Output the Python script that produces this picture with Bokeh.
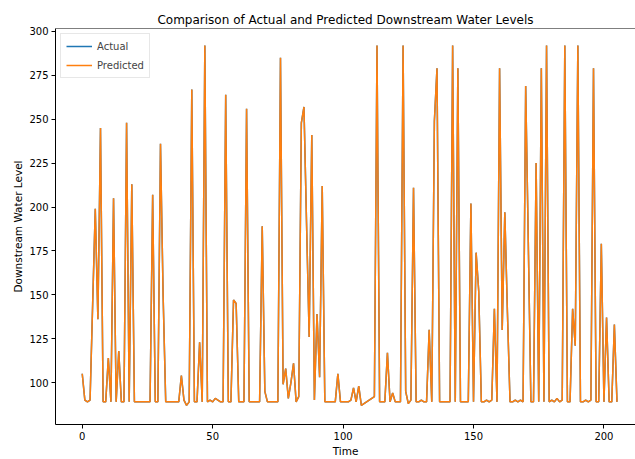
from bokeh.plotting import figure
from bokeh.models import Range1d, FixedTicker, Legend, LegendItem, Span
from bokeh.embed import file_html
from bokeh.resources import INLINE

actual = [105, 90, 89, 90, 145, 199, 136, 245, 89, 89,
          114, 89, 205, 89, 118, 89, 89, 248, 89, 213,
          89, 89, 89, 89, 89, 89, 89, 207, 89, 89,
          236, 150, 89, 89, 89, 89, 89, 89, 104, 90,
          87, 89, 267, 89, 89, 123, 89, 292, 89, 90,
          89, 91, 90, 89, 89, 264, 89, 89, 147, 145,
          89, 89, 89, 256, 89, 89, 89, 89, 89, 189,
          95, 89, 89, 89, 89, 89, 285, 99, 108, 91,
          100, 111, 89, 92, 248, 257, 190, 126, 241, 90,
          139, 103, 212, 89, 89, 89, 89, 89, 105, 89,
          89, 89, 89, 90, 97, 89, 98, 87, 88, 89,
          90, 91, 92, 292, 89, 89, 89, 117, 89, 94,
          89, 89, 89, 292, 95, 88, 90, 211, 89, 89,
          90, 89, 89, 130, 89, 249, 279, 89, 89, 89,
          89, 89, 292, 89, 279, 89, 89, 89, 89, 202,
          89, 174, 152, 89, 89, 90, 89, 90, 142, 89,
          279, 130, 197, 140, 89, 89, 90, 89, 90, 89,
          269, 180, 89, 89, 225, 89, 279, 89, 292, 89,
          90, 89, 91, 89, 90, 292, 89, 89, 142, 121,
          292, 89, 89, 90, 89, 90, 279, 89, 89, 179,
          89, 137, 89, 89, 133, 89]

predicted = [105, 90, 89, 90, 145, 199, 136, 245, 89, 89,
             114, 89, 205, 89, 118, 89, 89, 248, 89, 213,
             89, 89, 89, 89, 89, 89, 89, 207, 89, 89,
             236, 150, 89, 89, 89, 89, 89, 89, 104, 90,
             87, 89, 267, 89, 89, 123, 89, 292, 89, 90,
             89, 91, 90, 89, 89, 264, 89, 89, 147, 145,
             89, 89, 89, 256, 89, 89, 89, 89, 89, 189,
             95, 89, 89, 89, 89, 89, 285, 99, 108, 91,
             100, 111, 89, 92, 248, 257, 190, 126, 241, 90,
             139, 103, 212, 89, 89, 89, 89, 89, 105, 89,
             89, 89, 89, 90, 97, 89, 98, 87, 88, 89,
             90, 91, 92, 292, 89, 89, 89, 117, 89, 94,
             89, 89, 89, 292, 95, 88, 90, 211, 89, 89,
             90, 89, 89, 130, 89, 249, 279, 89, 89, 89,
             89, 89, 292, 89, 279, 89, 89, 89, 89, 202,
             89, 174, 152, 89, 89, 90, 89, 90, 142, 89,
             279, 130, 197, 140, 89, 89, 90, 89, 90, 89,
             269, 180, 89, 89, 225, 89, 279, 89, 292, 89,
             90, 89, 91, 89, 90, 292, 89, 89, 142, 121,
             292, 89, 89, 90, 89, 90, 279, 89, 89, 179,
             89, 137, 89, 89, 133, 89]

time = list(range(len(actual)))
x_ticks = [0, 50, 100, 150, 200]
y_ticks = [100, 125, 150, 175, 200, 225, 250, 275, 300]

FONT = "DejaVu Sans"

p = figure(width=635, height=459, output_backend="svg", toolbar_location=None,
           x_range=Range1d(-10.25, 212.1), y_range=Range1d(76.1, 301.7),
           min_border_left=55, min_border_right=0, min_border_top=28, min_border_bottom=34,
           title="Comparison of Actual and Predicted Downstream Water Levels")

p.title.text_font = FONT
p.title.text_font_size = "12px"
p.title.text_font_style = "normal"
p.title.align = "center"
p.title.standoff = 4
p.title.text_color = "black"

p.outline_line_color = None
p.xgrid.visible = False
p.ygrid.visible = False

for ax in (p.xaxis[0], p.yaxis[0]):
    ax.axis_line_color = "black"
    ax.major_tick_line_color = "black"
    ax.minor_tick_line_color = None
    ax.major_tick_out = 4
    ax.major_tick_in = 0
    ax.major_label_text_font = FONT
    ax.major_label_text_font_size = "10px"
    ax.major_label_text_color = "black"
    ax.axis_label_text_font = FONT
    ax.axis_label_text_font_size = "10.5px"
    ax.axis_label_text_font_style = "normal"
    ax.axis_label_text_color = "black"
    ax.major_label_standoff = 3
    ax.axis_label_standoff = 2

p.xaxis[0].ticker = FixedTicker(ticks=x_ticks)
p.yaxis[0].ticker = FixedTicker(ticks=y_ticks)
p.xaxis[0].axis_label = "Time"
p.yaxis[0].axis_label = "Downstream Water Level"

p.add_layout(Span(location=p.y_range.end, dimension="width", line_color="black", line_width=1))

r1 = p.line(time, actual, line_color="#1f77b4", line_width=1.5)
r2 = p.line(time, predicted, line_color="#ff7f0e", line_width=1.5)

legend = Legend(items=[LegendItem(label="Actual", renderers=[r1]),
                       LegendItem(label="Predicted", renderers=[r2])],
                location="top_left", margin=5, padding=5, spacing=5,
                glyph_width=26, glyph_height=14, label_standoff=5,
                label_text_font=FONT, label_text_font_size="10px",
                border_line_color="#d0d0d0", background_fill_alpha=0.8)
p.add_layout(legend)

open("out.html", "w").write(file_html(p, INLINE))
